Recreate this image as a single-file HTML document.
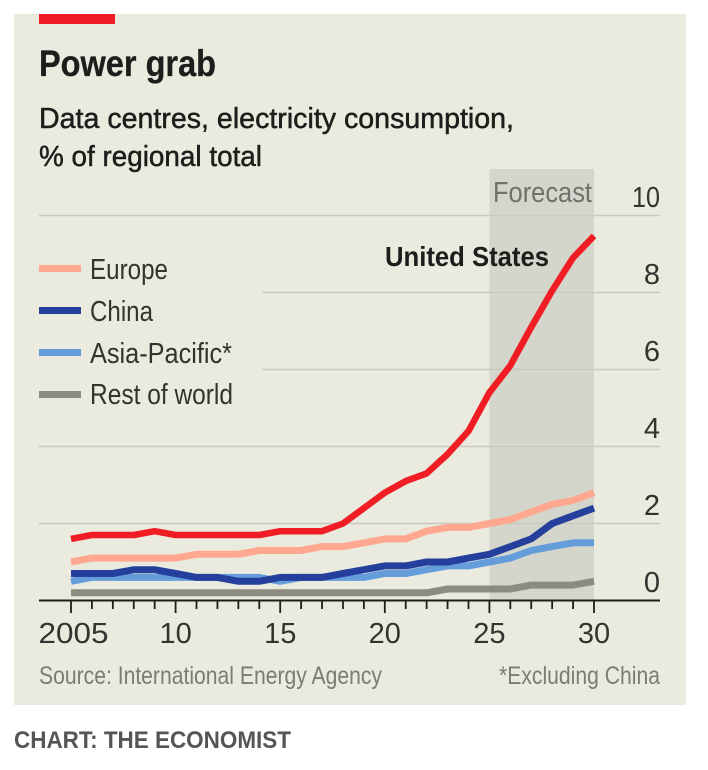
<!DOCTYPE html>
<html>
<head>
<meta charset="utf-8">
<title>Power grab</title>
<style>
html,body{margin:0;padding:0;background:#fff;}
svg{display:block;}
text{font-family:"Liberation Sans",sans-serif;}
</style>
</head>
<body>
<svg id="chart" width="708" height="770" viewBox="0 0 708 770" xmlns="http://www.w3.org/2000/svg">
  <rect x="14" y="14" width="672" height="691" fill="#eaeadf"/>
  <rect x="39" y="14" width="76" height="10" fill="#ee1c25"/>
  <text x="39" y="76" font-size="37" font-weight="700" stroke="#1d1d1b" stroke-width="0.3" fill="#1d1d1b" textLength="177" lengthAdjust="spacingAndGlyphs">Power grab</text>
  <text x="39" y="128" font-size="29" font-weight="400" stroke="#1d1d1b" stroke-width="0.5" fill="#1d1d1b" textLength="475" lengthAdjust="spacingAndGlyphs">Data centres, electricity consumption,</text>
  <text x="39" y="166" font-size="29" font-weight="400" stroke="#1d1d1b" stroke-width="0.5" fill="#1d1d1b" textLength="223" lengthAdjust="spacingAndGlyphs">% of regional total</text>

  <g id="plot"></g>

  <text x="493" y="202" font-size="29" fill="#6f716c" textLength="99" lengthAdjust="spacingAndGlyphs">Forecast</text>
  <text x="385" y="266" font-size="28" font-weight="700" fill="#1d1d1b" textLength="164" lengthAdjust="spacingAndGlyphs">United States</text>

  <g>
    <g>
      <rect x="39" y="265" width="42" height="7" fill="#ffa88f"/>
      <text x="90" y="279" font-size="29" fill="#33332f" textLength="78" lengthAdjust="spacingAndGlyphs">Europe</text>
    </g>
    <g>
      <rect x="39" y="307" width="42" height="7" fill="#24409c"/>
      <text x="90" y="321" font-size="29" fill="#33332f" textLength="63" lengthAdjust="spacingAndGlyphs">China</text>
    </g>
    <g>
      <rect x="39" y="349" width="42" height="7" fill="#659ddb"/>
      <text x="90" y="363" font-size="29" fill="#33332f" textLength="142" lengthAdjust="spacingAndGlyphs">Asia-Pacific*</text>
    </g>
    <g>
      <rect x="39" y="391" width="42" height="7" fill="#8b8c7f"/>
      <text x="90" y="404" font-size="29" fill="#33332f" textLength="143" lengthAdjust="spacingAndGlyphs">Rest of world</text>
    </g>
  </g>

  <text x="39" y="684" font-size="25" fill="#7b7c76" textLength="343" lengthAdjust="spacingAndGlyphs">Source: International Energy Agency</text>
  <text x="499" y="684" font-size="25" fill="#7b7c76" textLength="161" lengthAdjust="spacingAndGlyphs">*Excluding China</text>
  <text x="14" y="748" font-size="24" font-weight="700" fill="#555553" textLength="277" lengthAdjust="spacingAndGlyphs">CHART: THE ECONOMIST</text>
</svg>

<script>
const years = [2005,2006,2007,2008,2009,2010,2011,2012,2013,2014,2015,2016,2017,2018,2019,2020,2021,2022,2023,2024,2025,2026,2027,2028,2029,2030];
const unitedStates = [1.6,1.7,1.7,1.7,1.8,1.7,1.7,1.7,1.7,1.7,1.8,1.8,1.8,2.0,2.4,2.8,3.1,3.3,3.8,4.4,5.4,6.1,7.1,8.05,8.9,9.47];
const europe = [1.0,1.1,1.1,1.1,1.1,1.1,1.2,1.2,1.2,1.3,1.3,1.3,1.4,1.4,1.5,1.6,1.6,1.8,1.9,1.9,2.0,2.1,2.3,2.5,2.6,2.8];
const china = [0.7,0.7,0.7,0.8,0.8,0.7,0.6,0.6,0.5,0.5,0.6,0.6,0.6,0.7,0.8,0.9,0.9,1.0,1.0,1.1,1.2,1.4,1.6,2.0,2.2,2.4];
const asiaPacific = [0.5,0.6,0.6,0.6,0.6,0.6,0.6,0.6,0.6,0.6,0.5,0.6,0.6,0.6,0.6,0.7,0.7,0.8,0.9,0.9,1.0,1.1,1.3,1.4,1.5,1.5];
const restOfWorld = [0.2,0.2,0.2,0.2,0.2,0.2,0.2,0.2,0.2,0.2,0.2,0.2,0.2,0.2,0.2,0.2,0.2,0.2,0.3,0.3,0.3,0.3,0.4,0.4,0.4,0.5];
const yTicks = [0,2,4,6,8,10];
const xTickYears = [2005,2010,2015,2020,2025,2030];
const xTickLabels = ['2005','10','15','20','25','30'];
const forecastStartYear = 2025;
const forecastEndYear = 2030;

const NS = 'http://www.w3.org/2000/svg';
const plot = document.getElementById('plot');
const xScale = function (year) { return 71 + (year - 2005) * (523 / 25); };
const yScale = function (value) { return 600.5 - value * 38.5; };

function make(tag, attrs, text) {
  const el = document.createElementNS(NS, tag);
  for (const key in attrs) el.setAttribute(key, attrs[key]);
  if (text !== undefined) el.textContent = text;
  plot.appendChild(el);
  return el;
}

const band = make('rect', {
  x: xScale(forecastStartYear), y: 169,
  width: xScale(forecastEndYear) - xScale(forecastStartYear), height: 431,
  fill: '#d4d6cc'
});



yTicks.forEach(function (tick) {
  if (tick !== 0) {
    const start = (tick === 6 || tick === 8) ? 262 : 39;
    const grid = make('line', {
      x1: start, x2: 660, y1: yScale(tick), y2: yScale(tick),
      stroke: '#c9cabf', 'stroke-width': 1.6
    });
    
    
  }
  const label = make('text', {
    x: 660, y: yScale(tick) - 8.5, 'font-size': 29, fill: '#33332f', 'text-anchor': 'end'
  }, String(tick));
  if (tick >= 10) {
    label.setAttribute('textLength', '28');
    label.setAttribute('lengthAdjust', 'spacingAndGlyphs');
  }
  
  
});

function drawSeries(values, colour, name, width) {
  const points = values.map(function (v, i) {
    return xScale(years[i]).toFixed(1) + ',' + yScale(v).toFixed(1);
  }).join(' ');
  const line = make('polyline', {
    points: points, fill: 'none', stroke: colour,
    'stroke-width': width, 'stroke-linejoin': 'round', 'stroke-linecap': 'butt'
  });
  
  
}

drawSeries(restOfWorld, '#8b8c7f', 'line-rest-of-world', 7);
drawSeries(asiaPacific, '#659ddb', 'line-asia-pacific', 7);
drawSeries(europe, '#ffa88f', 'line-europe', 7);
drawSeries(china, '#24409c', 'line-china', 7);
drawSeries(unitedStates, '#f01d24', 'line-united-states', 6.5);

const axis = make('line', { x1: 39, x2: 660, y1: 600.5, y2: 600.5, stroke: '#1d1d1b', 'stroke-width': 2 });



years.forEach(function (year) {
  const major = xTickYears.indexOf(year) !== -1;
  const tick = make('line', {
    x1: xScale(year), x2: xScale(year), y1: 600.5, y2: major ? 613 : 609,
    stroke: '#1d1d1b', 'stroke-width': 1.8
  });
  
  
});

xTickYears.forEach(function (year, i) {
  const label = make('text', {
    x: xScale(year) + (i === 0 ? 2.5 : 0), y: 643, 'font-size': 29, fill: '#33332f', 'text-anchor': 'middle'
  }, xTickLabels[i]);
  if (i === 0) {
    label.setAttribute('textLength', '70');
    label.setAttribute('lengthAdjust', 'spacingAndGlyphs');
  }
  
  
});
</script>
</body>
</html>
